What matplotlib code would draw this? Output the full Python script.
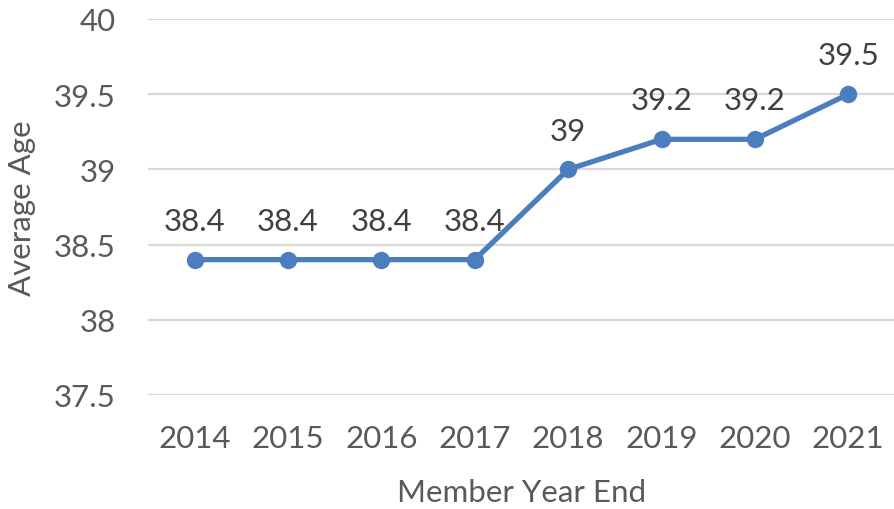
import matplotlib
matplotlib.use("Agg")
import matplotlib.pyplot as plt

years = ["2014", "2015", "2016", "2017", "2018", "2019", "2020", "2021"]
avg_age = [38.4, 38.4, 38.4, 38.4, 39.0, 39.2, 39.2, 39.5]
labels = ["38.4", "38.4", "38.4", "38.4", "39", "39.2", "39.2", "39.5"]
yticks = [37.5, 38, 38.5, 39, 39.5, 40]
ytick_labels = ["37.5", "38", "38.5", "39", "39.5", "40"]

plt.rcParams['font.family'] = ['Lato', 'DejaVu Sans']
txt = "#595959"
blue = "#4A7EBF"

W, H = 895, 510
fig = plt.figure(figsize=(W/100, H/100), dpi=100)
left = 148 / W
right = 895 / W
bottom = (H - 396) / H
top = (H - 20) / H
ax = fig.add_axes([left, bottom, right - left, top - bottom])

x = list(range(len(years)))
ax.plot(x, avg_age, color=blue, lw=3.8, marker='o', ms=11.5, zorder=3, clip_on=False)
for xi, yi, lab in zip(x, avg_age, labels):
    ax.annotate(lab, (xi, yi), xytext=(0, 28), textcoords='offset points',
                ha='center', va='center', fontsize=22.5, color='#404040')

ax.set_xlim(-0.5, 7.5)
ax.set_ylim(37.5, 40)
ax.set_yticks(yticks)
ax.set_yticklabels(ytick_labels)
ax.set_xticks(x)
ax.set_xticklabels(years)
ax.tick_params(axis='both', length=0, labelsize=22.5, labelcolor=txt)
ax.tick_params(axis='y', pad=23)
ax.tick_params(axis='x', pad=21)
ax.grid(axis='y', color='#D9D9D9', lw=1.6)
ax.set_axisbelow(True)
for s in ax.spines.values():
    s.set_visible(False)

fig.text(522 / W, 1 - 493 / H, "Member Year End", ha='center', va='center', fontsize=22.5, color=txt)
fig.text(22 / W, 1 - 208 / H, "Average Age", ha='center', va='center', rotation=90, fontsize=22.5, color=txt)

fig.savefig("out.png", dpi=100)
